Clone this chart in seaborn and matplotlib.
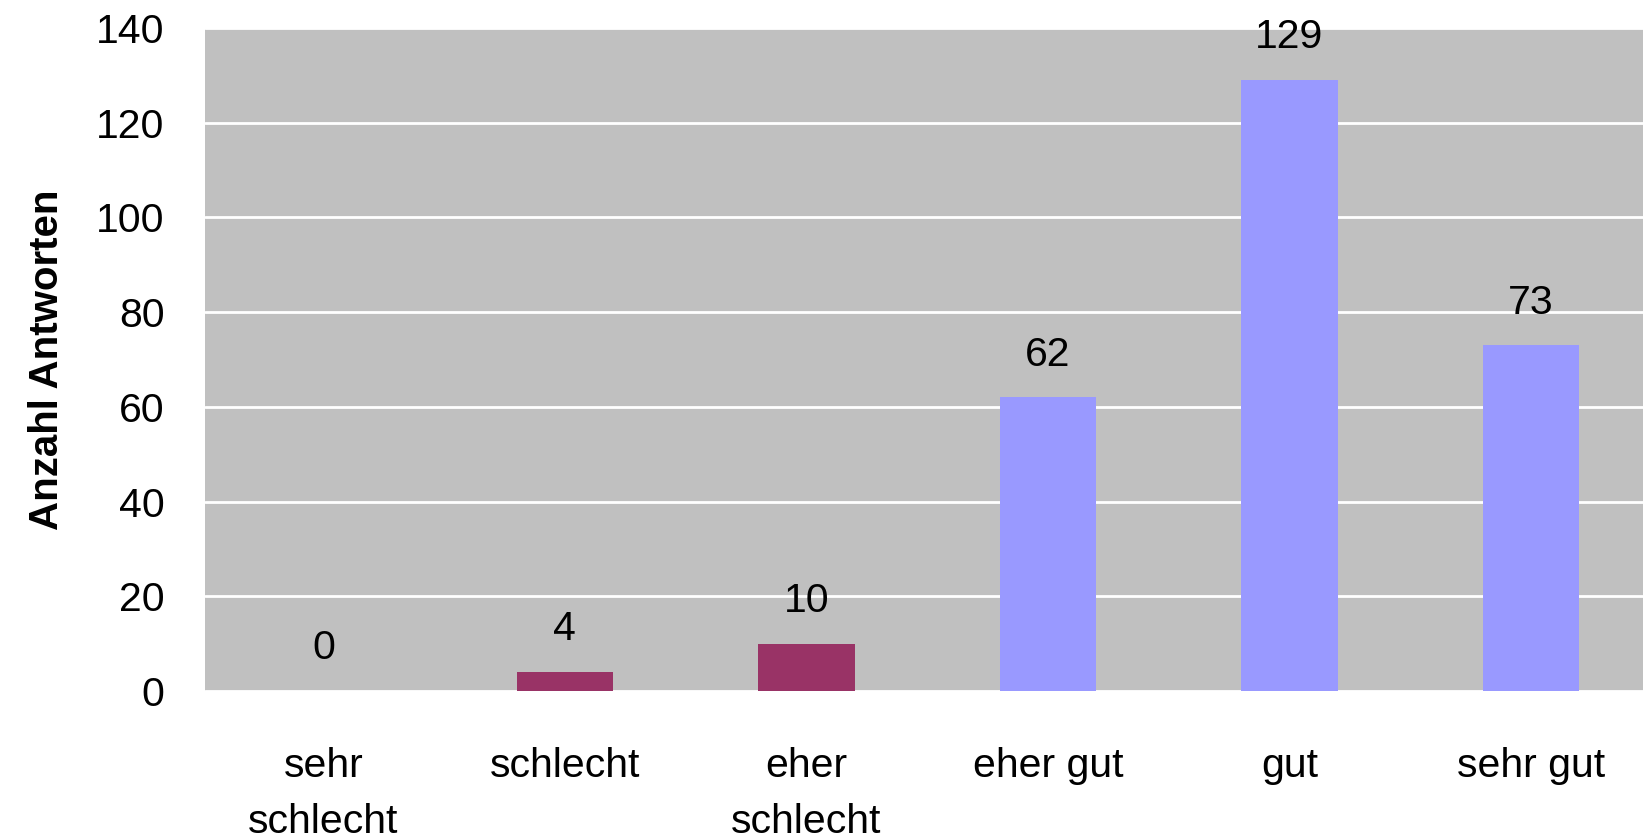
import matplotlib
matplotlib.use("Agg")
import matplotlib.pyplot as plt
import seaborn as sns
import pandas as pd

# Survey ratings and number of answers per rating
categories = ["sehr\nschlecht", "schlecht", "eher\nschlecht", "eher gut", "gut", "sehr gut"]
answers = [0, 4, 10, 62, 129, 73]
bar_colors = ["#993366", "#993366", "#993366", "#9999FF", "#9999FF", "#9999FF"]
y_ticks = [0, 20, 40, 60, 80, 100, 120, 140]

sns.set_theme(style="white")
plt.rcParams["font.family"] = ["Liberation Sans", "DejaVu Sans"]
plt.rcParams["text.color"] = "black"
plt.rcParams["xtick.color"] = "black"
plt.rcParams["ytick.color"] = "black"
plt.rcParams["axes.labelcolor"] = "black"

df = pd.DataFrame({"Bewertung": categories, "Anzahl": answers})

fig = plt.figure(figsize=(16.43, 8.39), dpi=100)
ax = fig.add_axes([205 / 1643, 148 / 839, 1446.6 / 1643, 663 / 839])
ax.set_facecolor("#C0C0C0")

sns.barplot(data=df, x="Bewertung", y="Anzahl", hue="Bewertung",
            palette=bar_colors, legend=False, width=0.4, saturation=1,
            edgecolor="none", linewidth=0, ax=ax, zorder=3)

ax.set_xlim(-0.49, 5.5)
ax.set_ylim(0, 140)
ax.set_yticks(y_ticks)
ax.yaxis.grid(True, color="white", linewidth=2, zorder=0)
ax.set_axisbelow(True)
for s in ax.spines.values():
    s.set_visible(False)

ax.tick_params(axis="y", length=0, pad=29, labelsize=29.5)
ax.tick_params(axis="x", length=0, pad=40, labelsize=29.5)
for lbl in ax.get_xticklabels():
    lbl.set_linespacing(1.6)

ax.set_xlabel("")
ax.set_ylabel("Anzahl Antworten", fontsize=29, fontweight="bold", labelpad=22)

for container in ax.containers:
    ax.bar_label(container, fmt="%d", padding=17, fontsize=29.5)

fig.savefig("out.png", dpi=100)
